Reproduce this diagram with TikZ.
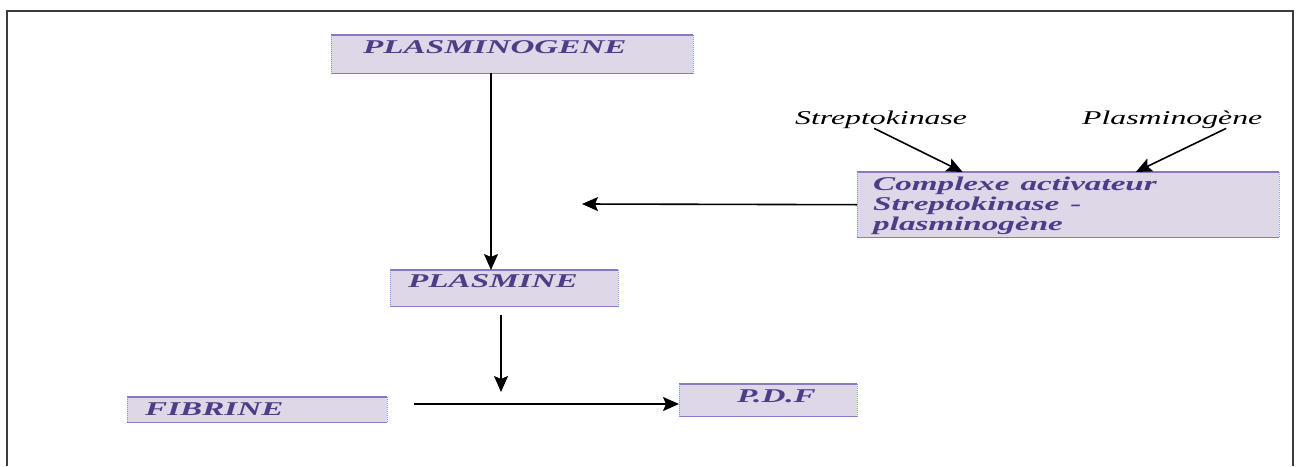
\documentclass[tikz,border=0pt]{standalone}
\usepackage{fontspec}
\setmainfont{Liberation Serif}
\usepackage{graphicx}
\usetikzlibrary{arrows.meta,calc}

\definecolor{fondboite}{RGB}{221,215,232}
\definecolor{bordboite}{RGB}{140,120,190}
\definecolor{coteboite}{RGB}{110,160,235}
\definecolor{textecol}{RGB}{78,60,135}
\definecolor{cadre}{RGB}{60,60,60}

\newcommand{\etire}[1]{\scalebox{1.7}[1]{#1}}
\newcommand{\etiq}[1]{\scalebox{1.63}[1]{#1}}

\tikzset{
  boite/.style={fill=fondboite, anchor=north west, inner sep=0pt, align=left,
    text=textecol, font=\fontsize{19.5}{20}\selectfont\bfseries\itshape},
  mot/.style={anchor=base west, inner sep=0pt, font=\fontsize{19.5}{20}\selectfont\itshape},
  bordure/.style={draw=bordboite, line width=1.5pt},
  cote/.style={draw=coteboite, line width=1pt, densely dotted},
  fleche/.style={line width=1.6pt, -{Stealth[length=16pt,width=14pt,inset=3pt]}}
}

\begin{document}
\begin{tikzpicture}[x=1pt,y=-1pt]
        \useasboundingbox (0,0) rectangle (1300,466);
        \draw[cadre, line width=2.5pt] (7,466) -- (7,11) -- (1293,11) -- (1293,466);

        \node[boite, text width=362pt, text height=18pt, text depth=20pt] (plg) at (331,35)
            {\hspace*{32pt}\etire{PLASMINOGENE}};
        \node[boite, text width=228pt, text height=17pt, text depth=19pt] (pla) at (390,270)
            {\hspace*{18pt}\etire{PLASMINE}};
        \node[boite, text width=260pt, text height=18pt, text depth=7pt] (fib) at (127,397)
            {\hspace*{18pt}\etire{FIBRINE}};
        \node[boite, text width=178pt, text height=18pt, text depth=14pt] (pdf) at (679,384)
            {\hspace*{58pt}\etire{P.D.F}};
        \node[boite, text width=422pt, text height=18pt, text depth=47pt] (cplx) at (857,172)
            {\hspace*{16pt}\etire{Complexe activateur}\\
             \hspace*{16pt}\etire{Streptokinase -}\\
             \hspace*{16pt}\etire{plasminogène}};

        \node[mot] (strep) at (795,124) {\etiq{Streptokinase}};
        \node[mot] (plgn) at (1082,124) {\etiq{Plasminogène}};

        % bords des boites
        \foreach \n in {plg,pla,fib,pdf,cplx} {
            \draw[bordure] (\n.north west) -- (\n.north east) (\n.south west) -- (\n.south east);
            \draw[cote] (\n.north west) -- (\n.south west) (\n.north east) -- (\n.south east);
        }

        \coordinate (p1) at (501,315);
        \coordinate (p2) at (501,392);
        \coordinate (f0) at (414,404);
        \coordinate (c0) at (582,204);

        \draw[fleche] (plg.south -| 491,0) -- (pla.north -| 491,0);
        \draw[fleche] (p1) -- (p2);
        \draw[fleche] (f0) -- (f0 -| pdf.west);
        \draw[fleche] (cplx.west) -- (c0);
        \draw[fleche] ([xshift=-7pt]strep.south) -- ($(cplx.north west)!0.25!(cplx.north east)$);
        \draw[fleche] ([xshift=54pt]plgn.south) -- ($(cplx.north west)!0.66!(cplx.north east)$);
\end{tikzpicture}
\end{document}
